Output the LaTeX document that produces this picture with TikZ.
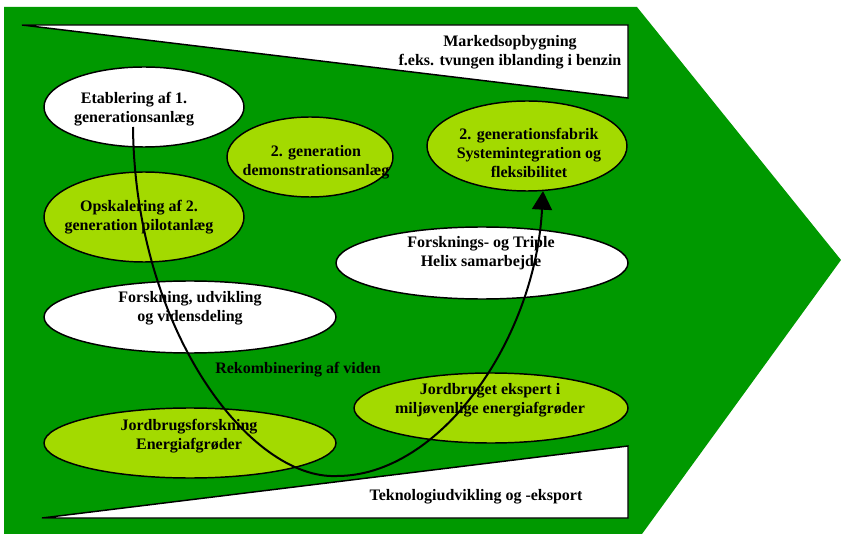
\documentclass[tikz,border=0pt]{standalone}
\usepackage{fontspec}
\setmainfont{Liberation Serif}
\usetikzlibrary{shapes.geometric,arrows.meta}

\definecolor{mørkgrøn}{RGB}{0,153,0}
\definecolor{lysgrøn}{RGB}{163,218,0}

\tikzset{
  blob/.style={ellipse,draw=black,line width=1.1pt,inner sep=0pt},
  grønblob/.style={blob,fill=lysgrøn},
  hvidblob/.style={blob,fill=white},
  kile/.style={draw=black,fill=white,line width=1.1pt},
  tekst/.style={font=\fontsize{12}{14.25}\selectfont\bfseries,align=center,inner sep=0.75pt},
}

\begin{document}
\begin{tikzpicture}[x=0.75pt,y=0.75pt,yscale=-1,xscale=1]
\useasboundingbox (0,0) rectangle (841,534);

%Shape: Arrow
\fill[mørkgrøn] (4,7) -- (637,7) -- (841,260) -- (642,534) -- (4,534) -- cycle;

%Shape: Right Triangle
\draw[kile] (22,25) -- (628,25) -- (628,98) -- cycle;
%Shape: Right Triangle
\draw[kile] (42,518) -- (628,446) -- (628,518) -- cycle;

%Shape: Ellipse
\node[hvidblob,minimum width=150pt,minimum height=60pt] (etab) at (144,107) {};
\node[grønblob,minimum width=124.5pt,minimum height=60pt] (demo) at (310,157) {};
\node[grønblob,minimum width=150pt,minimum height=67.5pt] (fab) at (527,146) {};
\node[grønblob,minimum width=150pt,minimum height=67.5pt] (opsk) at (144,217) {};
\node[hvidblob,minimum width=219pt,minimum height=54pt] (triple) at (482,263) {};
\node[hvidblob,minimum width=219pt,minimum height=54pt] (forsk) at (190,317) {};
\node[grønblob,minimum width=205.5pt,minimum height=52.5pt] (ekspert) at (491,408) {};
\node[grønblob,minimum width=219pt,minimum height=52.5pt] (jord) at (190,443) {};

% Text Node
\node[tekst] (marked) at (510,52) {Markedsopbygning\\f.eks. tvungen iblanding i benzin};
\node[tekst] (tekno) at (476,497) {Teknologiudvikling og -eksport};
\node[tekst] (rekomb) at (298,370) {Rekombinering af viden};
\node[tekst] (etabtxt) at (134,109) {Etablering af 1.\\generationsanlæg};
\node[tekst] (demotxt) at (316,162) {2. generation\\demonstrationsanlæg};
\node[tekst] (fabtxt) at (529,153) {2. generationsfabrik\\Systemintegration og\\fleksibilitet};
\node[tekst] (opsktxt) at (139,217) {Opskalering af 2.\\generation pilotanlæg};
\node[tekst] (tripletxt) at (481,253) {Forsknings- og Triple\\Helix samarbejde};
\node[tekst] (forsktxt) at (190,308) {Forskning, udvikling\\og vidensdeling};
\node[tekst] (eksperttxt) at (490,400) {Jordbruget ekspert i\\miljøvenlige energiafgrøder};
\node[tekst] (jordtxt) at (189,436) {Jordbrugsforskning\\Energiafgrøder};

%Curve Lines
\coordinate (start) at (133,127);
\coordinate (bund) at (337,476);
\coordinate (spids) at (543,191);
\draw[line width=1.5pt,-{Triangle[width=15pt,length=14pt]}] (start) .. controls (135,330) and (250,480) .. (bund) .. controls (440,476) and (535,340) .. (spids);

\end{tikzpicture}
\end{document}
